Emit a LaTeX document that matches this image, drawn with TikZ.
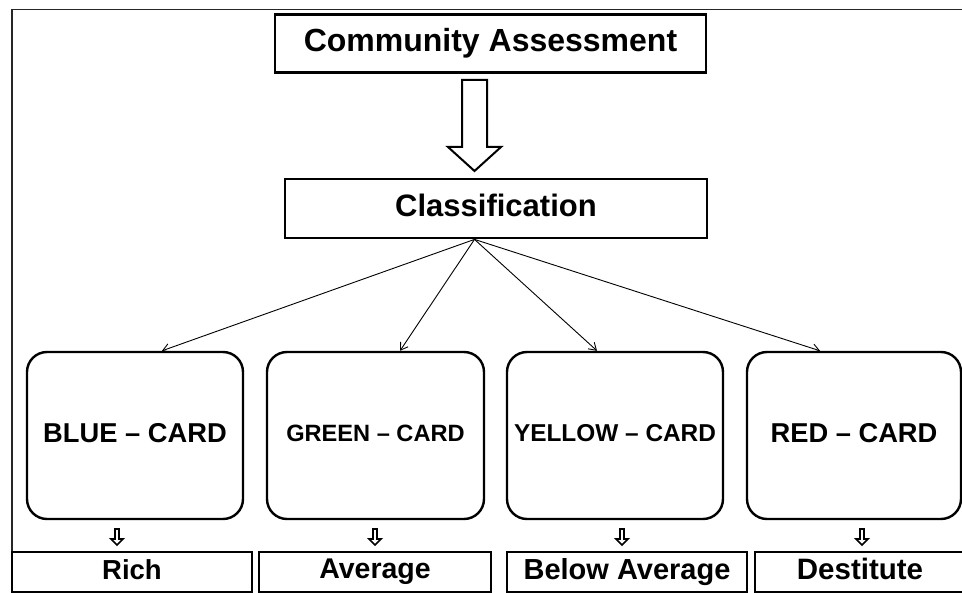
\documentclass[tikz,border=0pt]{standalone}
\usepackage{fontspec}
\setmainfont{Liberation Sans}
\usetikzlibrary{arrows.meta,calc}
\tikzset{
  topbox/.style={draw, line width=2.8pt, rectangle, inner sep=0pt, font=\bfseries},
  card/.style={draw, line width=2.4pt, rectangle, rounded corners=20pt, inner sep=0pt, font=\bfseries},
  lowbox/.style={draw, line width=1.8pt, rectangle, inner sep=0pt, font=\bfseries},
  conn/.style={line width=0.9pt, -{Straight Barb[length=7pt,width=9pt,line width=0.9pt]}},
  bigarrow/.style={draw, line width=2pt, line join=miter},
  smallarrow/.style={draw, line width=1.7pt, line join=miter},
  framel/.style={line width=1.6pt, draw=black!85},
}
\newcommand{\smallarr}[1]{%
  \draw[smallarrow] ($(#1)+(-2,0)$) -- ($(#1)+(2,0)$) -- ($(#1)+(2,10)$) -- ($(#1)+(6,10)$) -- ($(#1)+(0,16)$) -- ($(#1)+(-6,10)$) -- ($(#1)+(-2,10)$) -- cycle;}
\newcommand{\sz}[2]{\fontsize{#1}{#1}\selectfont\vphantom{Ag}#2}
\begin{document}
\begin{tikzpicture}[x=1pt,y=-1pt]
\useasboundingbox (0,0) rectangle (962,593);
\fill[white] (0,0) rectangle (962,593);
% frame
\coordinate (fTR) at (963,9.5);
\coordinate (fTL) at (12,9.5);
\coordinate (fBL) at (12,593);
\draw[framel] (fTR) -- (fTL) -- (fBL);

% top boxes
\node[topbox, minimum width=431pt, minimum height=58pt] (ca) at (490.5,43.5)
  {\sz{32}{Community Assessment}};
\node[topbox, minimum width=422pt, minimum height=59pt] (cl) at (496,208.5)
  {\sz{31}{Classification}};

% big block arrow
\coordinate (ba) at (474.5,80);
\draw[bigarrow] ($(ba)+(-12.5,0)$) -- ($(ba)+(12.5,0)$) -- ($(ba)+(12.5,67)$) -- ($(ba)+(26.5,67)$)
  -- ($(ba)+(0,91)$) -- ($(ba)+(-26.5,67)$) -- ($(ba)+(-12.5,67)$) -- cycle;

% cards
\node[card, minimum width=216pt, minimum height=167pt] (blue) at (135,435.5)
  {\sz{27.3}{BLUE -- CARD}};
\node[card, minimum width=217pt, minimum height=167pt] (green) at (375.5,435.5)
  {\sz{23.6}{GREEN -- CARD}};
\node[card, minimum width=216pt, minimum height=167pt] (yellow) at (615,435.5)
  {\sz{24.4}{YELLOW -- CARD}};
\node[card, minimum width=214pt, minimum height=167pt] (red) at (854,435.5)
  {\sz{27.3}{RED -- CARD}};

% connectors
\coordinate (hub) at ($(cl.south)+(-21.5,0)$);
\draw[conn] (hub) -- ($(blue.north)+(27,0)$);
\draw[conn] (hub) -- ($(green.north)+(24.5,0)$);
\draw[conn] (hub) -- ($(yellow.north)+(-18,0)$);
\draw[conn] (hub) -- ($(red.north)+(-34,0)$);

% bottom boxes
\node[lowbox, minimum width=240pt, minimum height=40pt] (rich) at (132,572)
  {\sz{27.5}{Rich}};
\node[lowbox, minimum width=232pt, minimum height=40pt] (avg) at (375,572)
  {\sz{28.5}{Average}};
\node[lowbox, minimum width=240pt, minimum height=40pt] (bavg) at (627,572)
  {\sz{29}{Below Average}};
\node[lowbox, minimum width=210pt, minimum height=40pt] (dest) at (860,572)
  {\sz{29.5}{Destitute}};

% small arrows
\coordinate (sa1) at (117,529);
\coordinate (sa2) at (375,529);
\coordinate (sa3) at (622,529);
\coordinate (sa4) at (862,529);
\smallarr{sa1}
\smallarr{sa2}
\smallarr{sa3}
\smallarr{sa4}
\end{tikzpicture}
\end{document}
